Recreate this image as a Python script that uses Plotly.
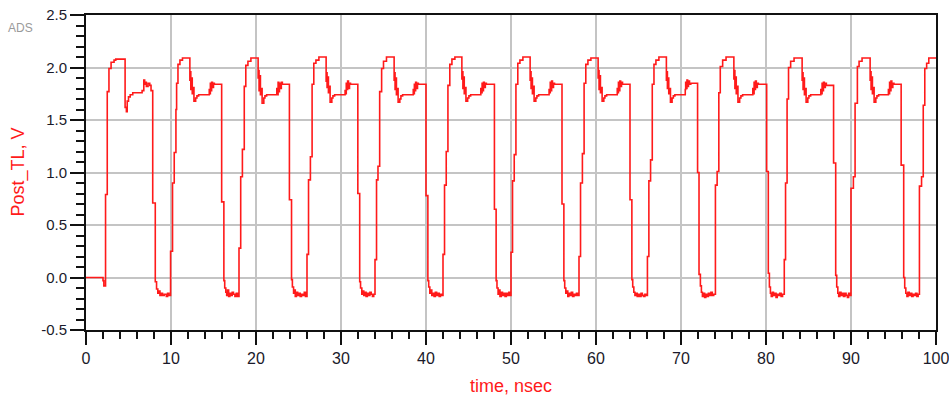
import plotly.graph_objects as go

# Waveform samples (step-held values), time in ns, voltage in V
time_ns = [
    0.00, 2.00, 2.10, 2.30, 2.50, 2.70, 2.95, 3.30, 3.50, 4.60, 4.75, 4.85, 5.00, 5.20, 5.50,
    6.60, 6.80, 6.90, 7.00, 7.10, 7.30, 7.50, 7.65, 7.85, 8.15, 8.30, 8.45, 8.60, 8.70, 8.85,
    9.00, 9.20, 9.45, 9.60, 9.75,
    # cycle 10 ns
    9.95, 10.18, 10.38, 10.58, 10.66, 10.82, 11.05, 11.35, 12.22, 12.28, 12.33, 12.42, 12.50,
    12.60, 12.70, 12.90, 13.05, 13.25, 14.50, 14.56, 14.63, 14.70, 14.78, 14.88, 15.00, 15.10,
    15.96, 16.22, 16.32, 16.45, 16.55, 16.65, 16.78, 16.92, 17.05, 17.20, 17.35, 17.52, 17.68, 17.82,
    # cycle 18 ns
    18.00, 18.20, 18.40, 18.62, 18.80, 19.05, 19.40, 20.25, 20.30, 20.36, 20.44, 20.52, 20.62,
    20.72, 20.92, 21.05, 21.25, 22.45, 22.52, 22.60, 22.68, 22.76, 22.86, 22.98, 23.10,
    23.93, 24.18, 24.28, 24.42, 24.52, 24.62, 24.75, 24.90, 25.05, 25.20, 25.35, 25.50, 25.68, 25.82,
    # cycle 26 ns
    26.00, 26.18, 26.40, 26.60, 26.80, 27.05, 27.40, 28.25, 28.30, 28.36, 28.45, 28.52, 28.62,
    28.72, 28.92, 29.05, 29.25, 30.48, 30.55, 30.62, 30.70, 30.78, 30.88, 31.00, 31.12,
    31.98, 32.20, 32.30, 32.45, 32.55, 32.68, 32.80, 32.95, 33.10, 33.25, 33.40, 33.55, 33.70, 33.85,
    # cycle 34 ns
    34.00, 34.18, 34.35, 34.55, 34.78, 35.00, 35.35, 36.25, 36.30, 36.36, 36.45, 36.52, 36.62,
    36.72, 36.92, 37.05, 37.25, 38.50, 38.56, 38.63, 38.70, 38.78, 38.88, 39.00, 39.10,
    40.00, 40.22, 40.32, 40.45, 40.55, 40.68, 40.80, 40.95, 41.10, 41.25, 41.40, 41.55, 41.70, 41.85,
    # cycle 42 ns
    42.00, 42.18, 42.38, 42.58, 42.80, 43.05, 43.40, 44.22, 44.28, 44.34, 44.42, 44.50, 44.60,
    44.70, 44.90, 45.05, 45.25, 46.45, 46.52, 46.60, 46.68, 46.76, 46.86, 46.98, 47.10,
    48.05, 48.25, 48.35, 48.48, 48.58, 48.70, 48.85, 49.00, 49.15, 49.30, 49.45, 49.60, 49.75, 49.88,
    # cycle 50 ns
    50.00, 50.18, 50.38, 50.58, 50.80, 51.05, 51.40, 52.25, 52.30, 52.36, 52.45, 52.52, 52.62,
    52.72, 52.92, 53.05, 53.25, 54.48, 54.55, 54.62, 54.70, 54.78, 54.88, 55.00, 55.12,
    56.00, 56.22, 56.32, 56.45, 56.55, 56.68, 56.80, 56.95, 57.10, 57.25, 57.40, 57.55, 57.70, 57.85,
    # cycle 58 ns
    58.00, 58.18, 58.40, 58.60, 58.80, 59.05, 59.40, 60.25, 60.30, 60.36, 60.44, 60.52, 60.62,
    60.72, 60.92, 61.05, 61.25, 62.50, 62.56, 62.64, 62.72, 62.80, 62.90, 63.00, 63.12,
    64.00, 64.22, 64.32, 64.45, 64.58, 64.70, 64.85, 65.00, 65.15, 65.30, 65.45, 65.60, 65.75, 65.90,
    # cycle 66 ns
    66.05, 66.22, 66.42, 66.62, 66.82, 67.05, 67.40, 68.28, 68.34, 68.40, 68.48, 68.56, 68.66,
    68.76, 68.95, 69.10, 69.28, 70.50, 70.55, 70.62, 70.70, 70.78, 70.88, 71.00, 71.15,
    71.95, 72.12, 72.28, 72.40, 72.52, 72.65, 72.78, 72.92, 73.08, 73.22, 73.38, 73.52, 73.68, 73.85,
    # cycle 74 ns
    74.05, 74.25, 74.45, 74.62, 74.90, 75.30, 76.22, 76.28, 76.34, 76.42, 76.50, 76.60, 76.70,
    76.90, 77.05, 77.25, 78.45, 78.52, 78.60, 78.68, 78.76, 78.86, 78.98, 79.10,
    80.08, 80.27, 80.40, 80.52, 80.62, 80.75, 80.88, 81.02, 81.18, 81.32, 81.48, 81.62, 81.78, 81.95,
    # cycle 82 ns
    82.15, 82.30, 82.48, 82.65, 82.90, 83.30, 84.25, 84.30, 84.36, 84.45, 84.52, 84.62, 84.72,
    84.92, 85.05, 85.25, 86.45, 86.52, 86.60, 86.68, 86.76, 86.86, 86.98, 87.10,
    87.95, 88.20, 88.32, 88.45, 88.55, 88.68, 88.82, 88.98, 89.12, 89.28, 89.42, 89.58, 89.72, 89.88,
    # cycle 90 ns
    90.00, 90.28, 90.48, 90.75, 90.95, 91.30, 92.25, 92.30, 92.36, 92.45, 92.52, 92.62, 92.72,
    92.92, 93.05, 93.25, 94.40, 94.46, 94.54, 94.62, 94.70, 94.80, 94.92, 95.05,
    95.90, 96.20, 96.32, 96.45, 96.58, 96.70, 96.85, 97.00, 97.15, 97.30, 97.45, 97.60, 97.75, 97.90,
    # cycle 98 ns
    98.05, 98.30, 98.50, 98.68, 98.90, 99.15, 100.00,
]

post_tl_v = [
    0.00, -0.03, -0.08, 0.79, 1.77, 1.99, 2.05, 2.07, 2.08, 1.62, 1.58, 1.68, 1.72, 1.74, 1.76,
    1.78, 1.88, 1.84, 1.86, 1.82, 1.85, 1.83, 1.78, 0.71, -0.04, -0.11, -0.15, -0.13, -0.17, -0.15,
    -0.17, -0.16, -0.18, -0.15, -0.17,
    # cycle 10 ns
    0.25, 0.90, 1.19, 1.60, 1.85, 2.03, 2.07, 2.09, 1.88, 1.96, 1.79, 1.90, 1.75,
    1.81, 1.68, 1.71, 1.73, 1.74, 1.79, 1.75, 1.85, 1.78, 1.86, 1.81, 1.85, 1.84,
    0.72, -0.03, -0.10, -0.14, -0.17, -0.12, -0.18, -0.15, -0.17, -0.14, -0.16, -0.18, -0.15, -0.18,
    # cycle 18 ns
    0.28, 0.96, 1.22, 1.82, 2.02, 2.06, 2.09, 1.90, 1.97, 1.78, 1.92, 1.74, 1.80,
    1.66, 1.71, 1.73, 1.74, 1.80, 1.74, 1.86, 1.77, 1.85, 1.80, 1.86, 1.84,
    0.74, -0.02, -0.09, -0.15, -0.12, -0.18, -0.14, -0.17, -0.15, -0.18, -0.16, -0.17, -0.14, -0.18,
    # cycle 26 ns
    0.22, 0.93, 1.15, 1.84, 2.04, 2.07, 2.10, 1.87, 1.95, 1.81, 1.91, 1.76, 1.82,
    1.67, 1.71, 1.73, 1.74, 1.78, 1.75, 1.85, 1.79, 1.87, 1.80, 1.85, 1.84,
    0.80, -0.04, -0.10, -0.16, -0.13, -0.17, -0.14, -0.18, -0.15, -0.17, -0.14, -0.16, -0.18, -0.16,
    # cycle 34 ns
    0.17, 0.93, 1.06, 1.77, 1.99, 2.06, 2.10, 1.88, 1.95, 1.79, 1.90, 1.74, 1.80,
    1.67, 1.70, 1.73, 1.74, 1.79, 1.75, 1.84, 1.78, 1.86, 1.80, 1.85, 1.84,
    0.78, -0.03, -0.09, -0.15, -0.12, -0.17, -0.15, -0.18, -0.14, -0.17, -0.15, -0.18, -0.16, -0.17,
    # cycle 42 ns
    0.22, 0.88, 1.20, 1.83, 2.03, 2.08, 2.10, 1.89, 1.96, 1.80, 1.91, 1.75, 1.81,
    1.68, 1.71, 1.73, 1.74, 1.80, 1.76, 1.85, 1.78, 1.86, 1.81, 1.85, 1.84,
    0.65, -0.03, -0.10, -0.16, -0.12, -0.18, -0.14, -0.17, -0.15, -0.18, -0.15, -0.17, -0.14, -0.17,
    # cycle 50 ns
    0.24, 0.92, 1.17, 1.84, 2.04, 2.07, 2.10, 1.88, 1.96, 1.80, 1.90, 1.75, 1.82,
    1.68, 1.71, 1.73, 1.74, 1.79, 1.76, 1.86, 1.78, 1.87, 1.81, 1.85, 1.84,
    0.70, -0.03, -0.10, -0.15, -0.13, -0.18, -0.15, -0.17, -0.14, -0.18, -0.16, -0.17, -0.15, -0.17,
    # cycle 58 ns
    0.20, 0.90, 1.18, 1.85, 2.03, 2.07, 2.09, 1.90, 1.97, 1.79, 1.92, 1.76, 1.81,
    1.68, 1.71, 1.73, 1.74, 1.80, 1.76, 1.86, 1.78, 1.87, 1.82, 1.86, 1.84,
    0.74, -0.02, -0.09, -0.14, -0.17, -0.15, -0.18, -0.16, -0.18, -0.15, -0.17, -0.18, -0.16, -0.17,
    # cycle 66 ns
    0.20, 0.92, 1.12, 1.84, 2.03, 2.07, 2.10, 1.88, 1.96, 1.80, 1.90, 1.75, 1.80,
    1.67, 1.71, 1.73, 1.74, 1.79, 1.86, 1.80, 1.88, 1.82, 1.87, 1.84, 1.85,
    1.00, 0.03, -0.08, -0.14, -0.18, -0.15, -0.19, -0.16, -0.18, -0.15, -0.17, -0.14, -0.17, -0.16,
    # cycle 74 ns
    0.88, 1.01, 1.76, 2.01, 2.07, 2.10, 1.89, 1.97, 1.80, 1.91, 1.75, 1.82, 1.67,
    1.71, 1.73, 1.74, 1.80, 1.75, 1.86, 1.79, 1.87, 1.81, 1.85, 1.84,
    1.01, 0.04, -0.09, -0.15, -0.18, -0.14, -0.17, -0.15, -0.19, -0.16, -0.17, -0.15, -0.18, -0.16,
    # cycle 82 ns
    0.17, 0.90, 1.70, 2.00, 2.06, 2.09, 1.88, 1.95, 1.79, 1.90, 1.74, 1.80, 1.67,
    1.71, 1.73, 1.74, 1.79, 1.75, 1.85, 1.78, 1.86, 1.81, 1.85, 1.83,
    1.09, 0.02, -0.09, -0.15, -0.18, -0.14, -0.17, -0.15, -0.18, -0.15, -0.17, -0.19, -0.15, -0.17,
    # cycle 90 ns
    0.85, 0.96, 1.66, 2.01, 2.06, 2.09, 1.88, 1.96, 1.79, 1.91, 1.75, 1.81, 1.67,
    1.71, 1.73, 1.74, 1.79, 1.75, 1.86, 1.78, 1.87, 1.81, 1.85, 1.84,
    1.07, 0.00, -0.10, -0.15, -0.18, -0.14, -0.17, -0.15, -0.18, -0.16, -0.17, -0.15, -0.18, -0.16,
    # cycle 98 ns
    0.87, 0.96, 1.64, 1.99, 2.04, 2.09, 2.09,
]

x_tick_vals = [0, 10, 20, 30, 40, 50, 60, 70, 80, 90, 100]
y_tick_vals = [-0.5, 0.0, 0.5, 1.0, 1.5, 2.0, 2.5]
y_tick_text = ["-0.5", "0.0", "0.5", "1.0", "1.5", "2.0", "2.5"]

x_title = "time, nsec"
y_title = "Post_TL, V"
corner_label = "ADS"

fig = go.Figure()
fig.add_trace(go.Scatter(
    x=time_ns, y=post_tl_v, mode="lines",
    line=dict(color="#ff1a1a", width=1.6, shape="hv"),
    hoverinfo="skip", showlegend=False,
))

axis_common = dict(
    showline=True, linecolor="#111111", linewidth=2, mirror=True,
    showgrid=True, gridcolor="#c4c4c4", gridwidth=1.5,
    zeroline=False, ticks="outside", tickcolor="#111111", tickwidth=1.5,
    automargin=False, ticklabeloverflow="allow",
)

fig.update_layout(
    width=949, height=400,
    margin=dict(l=86, r=13, t=15, b=70),
    plot_bgcolor="white", paper_bgcolor="white",
    xaxis=dict(
        range=[0, 100], tickvals=x_tick_vals, ticklen=13,
        tickfont=dict(family="Liberation Sans, Arial", size=16, color="#1a1a2a"),
        minor=dict(dtick=2, ticklen=7, ticks="outside", tickcolor="#111111", tickwidth=1.5, showgrid=False),
        **axis_common,
    ),
    yaxis=dict(
        range=[-0.5, 2.5], tickvals=y_tick_vals, ticktext=y_tick_text, ticklen=14,
        tickfont=dict(family="Liberation Sans, Arial", size=15, color="#1a1a2a"),
        minor=dict(dtick=0.1, ticklen=8, ticks="outside", tickcolor="#111111", tickwidth=1.5, showgrid=False),
        **axis_common,
    ),
    annotations=[
        dict(text=x_title, xref="paper", yref="paper", x=0.5, y=-0.178,
             showarrow=False, xanchor="center", yanchor="middle",
             font=dict(family="Liberation Sans, Arial", size=18, color="#ff1a1a")),
        dict(text=y_title, xref="paper", yref="paper", x=-0.08, y=0.5, textangle=-90,
             showarrow=False, xanchor="center", yanchor="middle",
             font=dict(family="Liberation Sans, Arial", size=18, color="#ff1a1a")),
        dict(text=corner_label, xref="paper", yref="paper", x=-0.0765, y=0.959,
             showarrow=False, xanchor="center", yanchor="middle",
             font=dict(family="Liberation Sans, Arial", size=12, color="#9a9a9a")),
    ],
)

fig.write_html(
    "out.html",
    config={"displayModeBar": False},
    post_script="document.body.style.margin='0';document.body.style.overflow='hidden';",
)
